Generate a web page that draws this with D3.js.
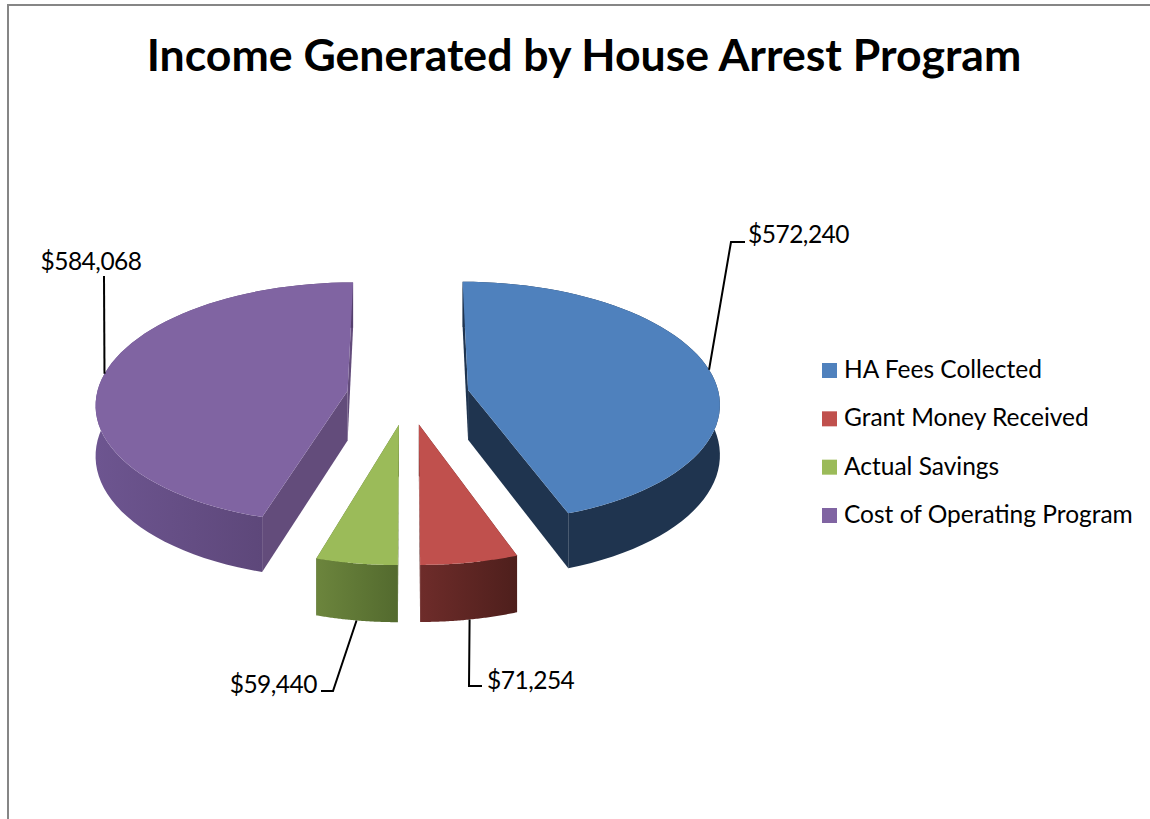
<!DOCTYPE html>
<html>
<head>
<meta charset="utf-8">
<script src="https://d3js.org/d3.v7.min.js"></script>
<style>
  html, body { margin: 0; padding: 0; background: #fff; }
  svg { display: block; }
  text { font-family: Lato, "Open Sans", sans-serif; fill: #000; }
</style>
</head>
<body>
<div id="chart"></div>
<script>
const categories = ['HA Fees Collected', 'Grant Money Received', 'Actual Savings', 'Cost of Operating Program']
const values = [572240, 71254, 59440, 584068]
const topColors = ['#4f81bd', '#c0504d', '#9bbb59', '#8064a2']
const faceColors = ['#1f344f', '#5a2321', '#5a6f33', '#634c7b']
const wallStart = ['#1f344f', '#6e2c2a', '#6c853d', '#6d5590']
const wallEnd = ['#1f344f', '#4e1f1c', '#536a2e', '#55406e']

const width = 1150,
  height = 819

// layout of the pie in the page
const cx = 408,
  cy = 395,
  radiusX = 251,
  radiusY = 120,
  depth = 50,
  perspective = 0.1,
  explode = 0.244

// where each leader goes after leaving the rim at the middle of its slice
const leaders = [
  { bend: [[731, 242], [745, 242]], label: [748, 243], anchor: 'start' },
  { bend: [[469, 686], [482, 686]], label: [487, 689], anchor: 'start' },
  { bend: [[333, 691], [321, 691]], label: [317, 693], anchor: 'end' },
  { bend: [[104, 276]], label: [91, 270], anchor: 'middle' },
]

const svg = d3.select('#chart').append('svg').attr('width', width).attr('height', height)

// frame of the chart, only top and left show up
svg.append('path').attr('d', 'M8,819V5H1150').attr('fill', 'none').attr('stroke', '#868686').attr('stroke-width', 2)

svg
  .append('text')
  .attr('x', 584)
  .attr('y', 71)
  .attr('text-anchor', 'middle')
  .style('font-size', '44.6px')
  .style('font-weight', 700)
  .text('Income Generated by House Arrest Program')

const pie = d3.pie().sort(null)(values)

// plane coordinates (radius = 1) to the screen, z = 1 is the bottom of the pie
const project = (u, v, z) => {
  const w = 1 / (1 - perspective * v)
  return [cx + radiusX * u * w, cy + (radiusY * v + depth * z) * w]
}

const midAngle = (d) => (d.startAngle + d.endAngle) / 2

const sliceCenter = (d) => {
  const mid = midAngle(d)
  return [explode * Math.sin(mid), -explode * Math.cos(mid)]
}

const rimPoint = (d, a, z) => {
  const [u0, v0] = sliceCenter(d)
  return project(u0 + Math.sin(a), v0 - Math.cos(a), z)
}

const rimAngles = (d) => d3.range(0, 61).map((i) => d.startAngle + ((d.endAngle - d.startAngle) * i) / 60)

const line = d3.line()
const defs = svg.append('defs')

const slices = svg.selectAll('g.slice').data(pie).join('g').attr('class', 'slice')

slices.each(function (d, i) {
  const g = d3.select(this)
  const [u0, v0] = sliceCenter(d)
  const apexTop = project(u0, v0, 0),
    apexBottom = project(u0, v0, 1)

  const grad = defs.append('linearGradient').attr('id', `wall${i}`)
  grad.append('stop').attr('offset', '0%').attr('stop-color', wallStart[i])
  grad.append('stop').attr('offset', '100%').attr('stop-color', wallEnd[i])

  // cut faces
  ;[d.startAngle, d.endAngle].forEach((a) => {
    g.append('path')
      .attr('d', line([apexTop, apexBottom, rimPoint(d, a, 1), rimPoint(d, a, 0)]) + 'Z')
      .attr('fill', faceColors[i])
  })

  // outer wall
  const angles = rimAngles(d)
  const wall = angles.map((a) => rimPoint(d, a, 0)).concat(angles.slice().reverse().map((a) => rimPoint(d, a, 1)))
  g.append('path')
    .attr('d', line(wall) + 'Z')
    .attr('fill', `url(#wall${i})`)

  // top
  g.append('path')
    .attr('d', line([apexTop].concat(angles.map((a) => rimPoint(d, a, 0)))) + 'Z')
    .attr('fill', topColors[i])
})

// leader lines and value labels
const money = d3.format('$,')
pie.forEach((d, i) => {
  const l = leaders[i]
  const a = midAngle(d)
  // the front slices hang their leader from the bottom of the wall
  const start = rimPoint(d, a, Math.cos(a) < -0.5 ? 1 : 0)
  svg
    .append('path')
    .attr('d', line([start].concat(l.bend)))
    .attr('fill', 'none')
    .attr('stroke', '#000')
    .attr('stroke-width', 2)
  svg
    .append('text')
    .attr('x', l.label[0])
    .attr('y', l.label[1])
    .attr('text-anchor', l.anchor)
    .style('font-size', '24.5px')
    .style('letter-spacing', '-0.5px')
    .text(money(values[i]))
})

// legend
const legendY = d3.scalePoint().domain(categories).range([363, 508])
const legend = svg
  .selectAll('g.legend')
  .data(categories)
  .join('g')
  .attr('class', 'legend')
  .attr('transform', (d) => `translate(822,${legendY(d)})`)
legend
  .append('rect')
  .attr('width', 15)
  .attr('height', 15)
  .attr('fill', (d, i) => topColors[i])
legend
  .append('text')
  .attr('x', 22)
  .attr('y', 15)
  .style('font-size', '24.5px')
  .text((d) => d)
</script>
</body>
</html>
